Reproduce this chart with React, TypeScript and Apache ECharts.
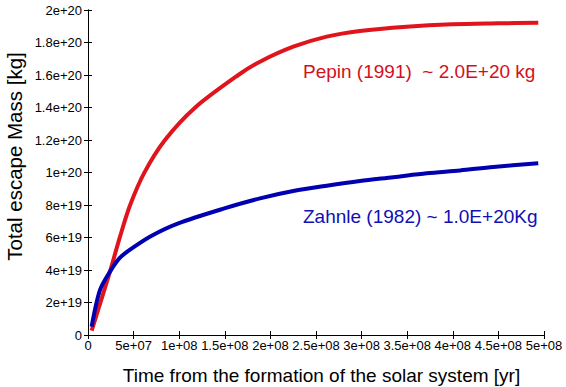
import React, { useEffect, useRef } from "react";
import * as echarts from "echarts";

const timesPepin = [4.0e6, 2.41e7, 3.51e7, 4.61e7, 6.18e7, 8.44e7, 1.173e8, 1.648e8, 1.886e8, 2.251e8, 2.617e8, 2.982e8, 3.494e8, 3.994e8, 4.499e8, 4.937e8];
const massPepin = [2.67e18, 3.9e19, 6.05e19, 7.98e19, 9.99e19, 1.2e20, 1.399e20, 1.6e20, 1.682e20, 1.774e20, 1.836e20, 1.871e20, 1.897e20, 1.912e20, 1.918e20, 1.922e20];
const timesZahnle = [4.0e6, 1.316e7, 2.41e7, 3.51e7, 4.97e7, 6.98e7, 9.9e7, 1.495e8, 1.886e8, 2.251e8, 2.617e8, 2.982e8, 3.348e8, 3.714e8, 4.079e8, 4.444e8, 4.937e8];
const massZahnle = [5.13e18, 2.77e19, 3.9e19, 4.76e19, 5.39e19, 6.11e19, 6.87e19, 7.79e19, 8.41e19, 8.86e19, 9.19e19, 9.48e19, 9.71e19, 9.95e19, 1.013e20, 1.034e20, 1.057e20];
const labelPepin = "Pepin (1991)  ~ 2.0E+20 kg";
const labelZahnle = "Zahnle (1982) ~ 1.0E+20Kg";
const xTitle = "Time from the formation of the solar system [yr]";
const yTitle = "Total escape Mass [kg]";

const FONT = "'Liberation Sans', Arial, Helvetica, sans-serif";

function fmt(v: number): string {
  if (v === 0) return "0";
  const s = parseFloat(v.toPrecision(6)).toExponential();
  const [m, e] = s.split("e");
  const sign = e[0];
  const d = e.slice(1).padStart(2, "0");
  return m + "e" + sign + d;
}

export default function App() {
  const ref = useRef<HTMLDivElement>(null);
  useEffect(() => {
    if (!ref.current) return;
    const chart = echarts.init(ref.current, undefined, { renderer: "svg" });
    const axisCommon = {
      type: "value" as const,
      axisLine: { show: true, lineStyle: { color: "#000", width: 1 } },
      axisTick: { show: true, inside: true, length: 4, lineStyle: { color: "#000" } },
      splitLine: { show: false },
    };
    chart.setOption({
      animation: false,
      backgroundColor: "#fff",
      grid: { left: 88, top: 10, right: 22, bottom: 52, containLabel: false },
      xAxis: [
        {
          ...axisCommon,
          position: "bottom",
          min: 0,
          max: 5e8,
          interval: 5e7,
          axisLabel: { formatter: fmt, color: "#000", fontSize: 13, fontFamily: FONT, margin: 4 },
        },
        {
          ...axisCommon,
          position: "top",
          min: 0,
          max: 5e8,
          interval: 5e7,
          axisLabel: { show: false },
        },
      ],
      yAxis: [
        {
          ...axisCommon,
          position: "left",
          min: 0,
          max: 2e20,
          interval: 2e19,
          axisLabel: { formatter: fmt, color: "#000", fontSize: 13, fontFamily: FONT, margin: 6 },
        },
        {
          ...axisCommon,
          position: "right",
          min: 0,
          max: 2e20,
          interval: 2e19,
          axisLabel: { show: false },
        },
      ],
      series: [
        {
          type: "line",
          name: "Pepin",
          data: timesPepin.map((t, i) => [t, massPepin[i]]),
          showSymbol: false,
          smooth: 0.3,
          lineStyle: { color: "#e0141c", width: 4 },
          itemStyle: { color: "#e0141c" },
        },
        {
          type: "line",
          name: "Zahnle",
          data: timesZahnle.map((t, i) => [t, massZahnle[i]]),
          showSymbol: false,
          smooth: 0.3,
          lineStyle: { color: "#0000b0", width: 4 },
          itemStyle: { color: "#0000b0" },
        },
      ],
      graphic: [
        {
          type: "text",
          x: 303,
          y: 71,
          style: { text: labelPepin, fill: "#d4101c", fontSize: 19, fontFamily: FONT, verticalAlign: "middle", align: "left" },
        },
        {
          type: "text",
          x: 303,
          y: 216,
          style: { text: labelZahnle, fill: "#1010b4", fontSize: 19, fontFamily: FONT, verticalAlign: "middle", align: "left" },
        },
        {
          type: "text",
          x: 321.5,
          y: 375,
          style: { text: xTitle, fill: "#000", fontSize: 19, fontFamily: FONT, verticalAlign: "middle", align: "center" },
        },
        {
          type: "text",
          x: 14.5,
          y: 156.5,
          rotation: Math.PI / 2,
          style: { text: yTitle, fill: "#000", fontSize: 20.5, fontFamily: FONT, verticalAlign: "middle", align: "center" },
        },
      ],
    });
    return () => chart.dispose();
  }, []);
  return <div ref={ref} style={{ position: "absolute", left: 0, top: 0, width: 566, height: 387 }} />;
}
